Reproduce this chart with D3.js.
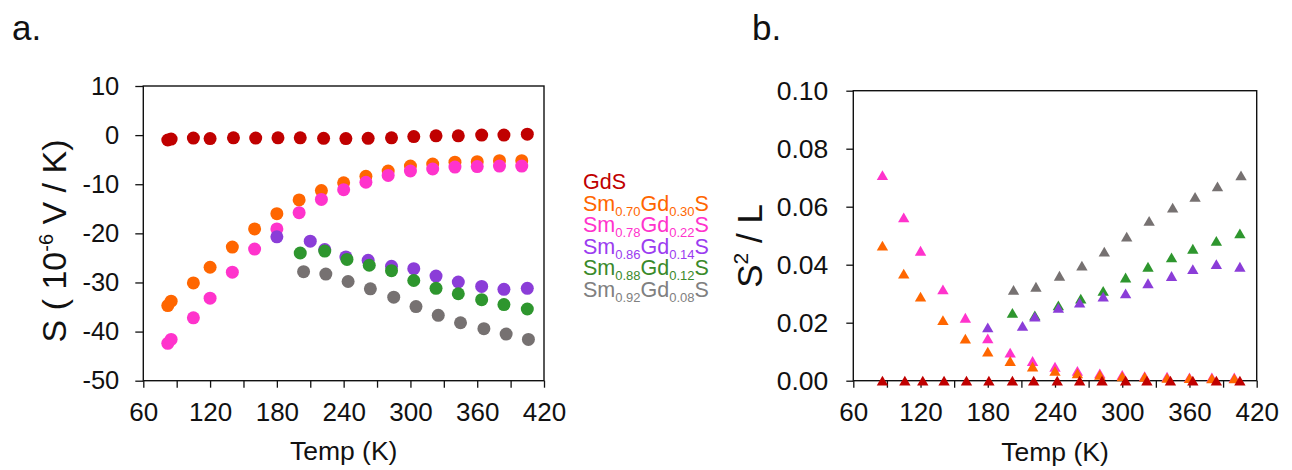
<!DOCTYPE html>
<html>
<head>
<meta charset="utf-8">
<script src="https://cdn.jsdelivr.net/npm/d3@7"></script>
<style>
  html, body { margin: 0; padding: 0; background: #fff; }
  svg { display: block; font-family: "Liberation Sans", Arial, sans-serif; }
</style>
</head>
<body>
<svg id="fig" width="1292" height="470"></svg>
<script>
// ---- Panel a: Seebeck coefficient S (10^-6 V/K) vs temperature ----
const tempA_GdS = [82, 85, 105, 120, 141, 161, 181, 201, 222, 242, 262, 283, 303, 323, 343, 364, 384, 405];
const sA_GdS    = [-1.0, -0.8, -0.6, -0.7, -0.55, -0.6, -0.55, -0.55, -0.65, -0.7, -0.65, -0.55, -0.3, -0.15, -0.15, 0.0, 0.0, 0.2];

const tempA_mix = [82, 85, 105, 120, 140, 160, 180, 200, 220, 240, 260, 280, 300, 320, 340, 360, 380, 400];
const sA_070    = [-34.7, -33.8, -30.1, -26.9, -22.8, -19.1, -16.0, -13.2, -11.3, -9.7, -8.4, -7.3, -6.3, -5.9, -5.5, -5.4, -5.2, -5.2];
const sA_078    = [-42.4, -41.6, -37.2, -33.2, -27.9, -23.2, -19.1, -15.8, -13.1, -11.1, -9.6, -8.2, -7.3, -6.9, -6.5, -6.4, -6.3, -6.3];

const tempA_086 = [180, 210, 223, 242, 262, 283, 303, 323, 343, 364, 384, 405];
const sA_086    = [-20.7, -21.6, -23.3, -24.8, -25.5, -26.7, -27.2, -28.7, -29.9, -30.8, -31.4, -31.2];

const tempA_088 = [201, 223, 243, 263, 283, 303, 323, 343, 364, 384, 405];
const sA_088    = [-24.0, -23.6, -25.3, -26.5, -27.6, -29.6, -31.2, -32.3, -33.5, -34.5, -35.4];

const tempA_092 = [204, 224, 244, 264, 285, 305, 325, 345, 366, 386, 406];
const sA_092    = [-27.8, -28.3, -29.8, -31.3, -33.0, -34.9, -36.7, -38.2, -39.4, -40.5, -41.6];

// ---- Panel b: S^2 / L vs temperature ----
const tempB_GdS = [86, 106, 122, 141, 161, 181, 202, 221, 242, 262, 282, 303, 322, 343, 363, 384, 405];
const pB_GdS    = [0, 0, 0, 0, 0, 0, 0, 0, 0, 0, 0, 0, 0, 0, 0, 0, 0];

const tempB_mix = [86, 105, 120, 140, 160, 180, 200, 220, 240, 260, 280, 300, 320, 340, 360, 380, 400];
const pB_070    = [0.0466, 0.0369, 0.0290, 0.0209, 0.0145, 0.0100, 0.0068, 0.0049, 0.0034, 0.0025, 0.0020, 0.0015, 0.0013, 0.0010, 0.0009, 0.0008, 0.0008];
const pB_078    = [0.0709, 0.0563, 0.0448, 0.0315, 0.0217, 0.0146, 0.0097, 0.0068, 0.0048, 0.0034, 0.0025, 0.0020, 0.0016, 0.0014, 0.0011, 0.0011, 0.0011];

const tempB_086 = [180, 211, 222, 243, 262, 283, 303, 323, 344, 363, 384, 405];
const pB_086    = [0.0184, 0.0189, 0.0221, 0.0251, 0.0269, 0.0290, 0.0301, 0.0336, 0.0361, 0.0385, 0.0402, 0.0393];

const tempB_088 = [202, 222, 243, 263, 283, 303, 323, 344, 363, 384, 405];
const pB_088    = [0.0234, 0.0225, 0.0260, 0.0283, 0.0310, 0.0356, 0.0393, 0.0425, 0.0455, 0.0482, 0.0508];

const tempB_092 = [203, 223, 244, 264, 284, 304, 324, 345, 365, 385, 406];
const pB_092    = [0.0313, 0.0324, 0.0362, 0.0397, 0.0445, 0.0497, 0.0551, 0.0597, 0.0634, 0.0670, 0.0708];

// ---- Axis ticks ----
const xTicks      = [60, 90, 120, 150, 180, 210, 240, 270, 300, 330, 360, 390, 420];
const xTickLabels = [60, 120, 180, 240, 300, 360, 420];
const yTicksA     = [-50, -40, -30, -20, -10, 0, 10];
const yTicksB     = [0, 0.02, 0.04, 0.06, 0.08, 0.10];

// ---- Legend entries: [base, sub, base, sub, base] ----
const legendNames = [
  ["GdS"],
  ["Sm", "0.70", "Gd", "0.30", "S"],
  ["Sm", "0.78", "Gd", "0.22", "S"],
  ["Sm", "0.86", "Gd", "0.14", "S"],
  ["Sm", "0.88", "Gd", "0.12", "S"],
  ["Sm", "0.92", "Gd", "0.08", "S"]
];
const colors = ["#c00000", "#ff6600", "#ff33cc", "#8b3dd8", "#2e962e", "#767171"];
const legendColors = ["#c00000", "#ff6600", "#ff33cc", "#9b3cf0", "#3a8a2a", "#808080"];

const svg = d3.select("#fig");
const AXIS = "#111";

function drawFrame(g, x, y, yTicks, yFmt, yFont, yPad, yTickLen) {
  const [x0, x1] = x.range();
  const [y0, y1] = y.range();
  // bottom axis
  const ax = d3.axisBottom(x).tickValues(xTicks).tickSize(7).tickPadding(15)
    .tickFormat(d => xTickLabels.includes(d) ? d : "");
  g.append("g").attr("transform", `translate(0,${y0})`).call(ax)
    .call(s => s.select(".domain").remove())
    .call(s => s.selectAll("line").attr("stroke", AXIS).attr("stroke-width", 1.3))
    .call(s => s.selectAll("text").attr("font-size", 26).attr("fill", "#111")
      .attr("font-family", "'Liberation Sans', Arial, sans-serif"));
  // left axis
  const ay = d3.axisLeft(y).tickValues(yTicks).tickSize(yTickLen).tickPadding(yPad).tickFormat(yFmt);
  g.append("g").attr("transform", `translate(${x0},0)`).call(ay)
    .call(s => s.select(".domain").remove())
    .call(s => s.selectAll("line").attr("stroke", AXIS).attr("stroke-width", 1.3))
    .call(s => s.selectAll("text").attr("font-size", yFont).attr("fill", "#111")
      .attr("font-family", "'Liberation Sans', Arial, sans-serif"));
  // plot frame
  g.append("rect").attr("x", x0).attr("y", y1).attr("width", x1 - x0).attr("height", y0 - y1)
    .attr("fill", "none").attr("stroke", AXIS).attr("stroke-width", 1.4);
}

// ================= Panel a =================
const xA = d3.scaleLinear().domain([60, 420]).range([143.3, 544]);
const yA = d3.scaleLinear().domain([-50, 10]).range([380.7, 86]);
const gA = svg.append("g");
drawFrame(gA, xA, yA, yTicksA, d => d, 25.5, 16, 8);

const seriesA = [
  [tempA_GdS, sA_GdS, colors[0]],
  [tempA_mix, sA_070, colors[1]],
  [tempA_mix, sA_078, colors[2]],
  [tempA_086, sA_086, colors[3]],
  [tempA_088, sA_088, colors[4]],
  [tempA_092, sA_092, colors[5]]
];
seriesA.forEach(([t, v, c]) => {
  gA.append("g").selectAll("circle").data(t.map((d, i) => [d, v[i]])).join("circle")
    .attr("cx", d => xA(d[0])).attr("cy", d => yA(d[1])).attr("r", 6.5).attr("fill", c);
});

// panel a labels
svg.append("text").attr("x", 12).attr("y", 40).attr("font-size", 35).attr("fill", "#111").text("a.");
gA.append("text").attr("x", (143.3 + 544) / 2).attr("y", 460).attr("text-anchor", "middle")
  .attr("font-size", 26.5).attr("fill", "#111").text("Temp (K)");
const yLabA = gA.append("text").attr("transform", "translate(66,241) rotate(-90)")
  .attr("text-anchor", "middle").attr("font-size", 34).attr("fill", "#111");
yLabA.append("tspan").text("S ( 10");
yLabA.append("tspan").attr("font-size", 20).attr("dy", -13).text("-6");
yLabA.append("tspan").attr("dy", 13).text(" V / K)");

// legend
const leg = svg.append("g");
legendNames.forEach((parts, i) => {
  const t = leg.append("text").attr("x", 583).attr("y", 189 + i * 21.5)
    .attr("font-size", 21.5).attr("fill", legendColors[i]);
  parts.forEach((p, j) => {
    if (j % 2 === 1) t.append("tspan").attr("font-size", 13).attr("dy", 5).text(p);
    else t.append("tspan").attr("dy", j === 0 ? 0 : -5).text(p);
  });
});

// ================= Panel b =================
const xB = d3.scaleLinear().domain([60, 420]).range([853.3, 1256.7]);
const yB = d3.scaleLinear().domain([0, 0.10]).range([380.7, 90.7]);
const gB = svg.append("g");
drawFrame(gB, xB, yB, yTicksB, d3.format(".2f"), 26.5, 18, 7);

const tri = d3.symbol().type(d3.symbolTriangle).size(56);
const triH = Math.sqrt(56 / (Math.sqrt(3) * 3)) * 3;
const seriesB = [
  [tempB_092, pB_092, colors[5]],
  [tempB_088, pB_088, colors[4]],
  [tempB_086, pB_086, colors[3]],
  [tempB_mix, pB_078, colors[2]],
  [tempB_mix, pB_070, colors[1]],
  [tempB_GdS, pB_GdS, colors[0]]
];
seriesB.forEach(([t, v, c]) => {
  gB.append("g").selectAll("path").data(t.map((d, i) => [d, v[i]])).join("path")
    .attr("d", tri)
    .attr("transform", d => `translate(${xB(d[0])},${yB(d[1]) + triH / 6})`)
    .attr("fill", c);
});

svg.append("text").attr("x", 752).attr("y", 40).attr("font-size", 35).attr("fill", "#111").text("b.");
gB.append("text").attr("x", (853.3 + 1256.7) / 2).attr("y", 461).attr("text-anchor", "middle")
  .attr("font-size", 26.5).attr("fill", "#111").text("Temp (K)");
const yLabB = gB.append("text").attr("transform", "translate(762,246) rotate(-90)")
  .attr("text-anchor", "middle").attr("font-size", 35).attr("fill", "#111");
yLabB.append("tspan").text("S");
yLabB.append("tspan").attr("font-size", 21).attr("dy", -14).text("2");
yLabB.append("tspan").attr("dy", 14).text(" / L");
</script>
</body>
</html>
